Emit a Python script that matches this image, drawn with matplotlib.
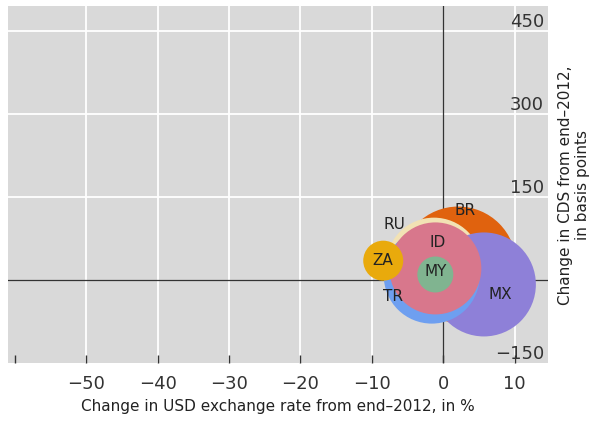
import matplotlib

matplotlib.use("Agg")
import matplotlib.pyplot as plt
import numpy as np

# bubbles, drawn in this order
countries = ["BR", "RU", "MX", "TR", "ID", "ZA", "MY"]
fx_change = [2.1, -1.3, 5.7, -1.6, -1.1, -8.4, -1.1]
cds_change = [28, 26, -8, 8, 21, 35, 10]
radius_px = [58, 48, 52, 48, 46, 20, 18]
colors = ["#e0620e", "#f2e2b4", "#8e80d8", "#6e9ff0", "#d8778c", "#e9aa0c", "#80b490"]

# label positions
label_x = [3.1, -6.9, 8.0, -7.0, -0.8, -8.4, -1.0]
label_y = [125, 100, -26, -30, 68, 35, 15]

x_ticks = [-60, -50, -40, -30, -20, -10, 0, 10]
x_ticklabels = ["", "\u221250", "\u221240", "\u221230", "\u221220", "\u221210", "0", "10"]
y_ticks = [-150, 150, 300, 450]
y_ticklabels = ["\u2212150", "150", "300", "450"]

fig = plt.figure(figsize=(6.01, 4.30), dpi=100)
ax = fig.add_axes([0.013, 0.156, 0.899, 0.829])
ax.set_facecolor("#d9d9d9")
ax.set_xlim(-61, 14.7)
ax.set_ylim(-147, 495)
for s in ax.spines.values():
    s.set_visible(False)

for v in [-50, -40, -30, -20, -10, 10]:
    ax.axvline(v, color="white", lw=1.3, zorder=0)
for v in [150, 300, 450]:
    ax.axhline(v, color="white", lw=1.3, zorder=0)
ax.axvline(0, color="#333333", lw=0.9, zorder=1)
ax.axhline(0, color="#333333", lw=0.9, zorder=1)

sizes = [(2 * r * 0.72) ** 2 for r in radius_px]
for i in range(len(countries)):
    ax.scatter(fx_change[i], cds_change[i], s=sizes[i], color=colors[i],
               edgecolors="none", zorder=2 + i)
for i, c in enumerate(countries):
    ax.text(label_x[i], label_y[i], c, ha="center", va="center", fontsize=11,
            color="#222222", zorder=20)

ax.set_xticks(x_ticks)
ax.set_xticklabels(x_ticklabels, fontsize=13, color="#333333")
ax.tick_params(axis="x", direction="in", length=6, width=1, color="#333333", pad=9)

ax.yaxis.tick_right()
ax.set_yticks(y_ticks)
ax.set_yticklabels(y_ticklabels, fontsize=13, color="#333333")
ax.tick_params(axis="y", length=0, pad=-3)
for lbl in ax.get_yticklabels():
    lbl.set_ha("right")
    lbl.set_va("bottom")

ax.set_xlabel("Change in USD exchange rate from end\u20132012, in %", fontsize=11,
              color="#222222", labelpad=4)
fig.text(0.955, 0.57, "Change in CDS from end\u20132012,\nin basis points", rotation=90,
         ha="center", va="center", fontsize=11, color="#222222", linespacing=1.1)

fig.savefig("out.png", dpi=100)
